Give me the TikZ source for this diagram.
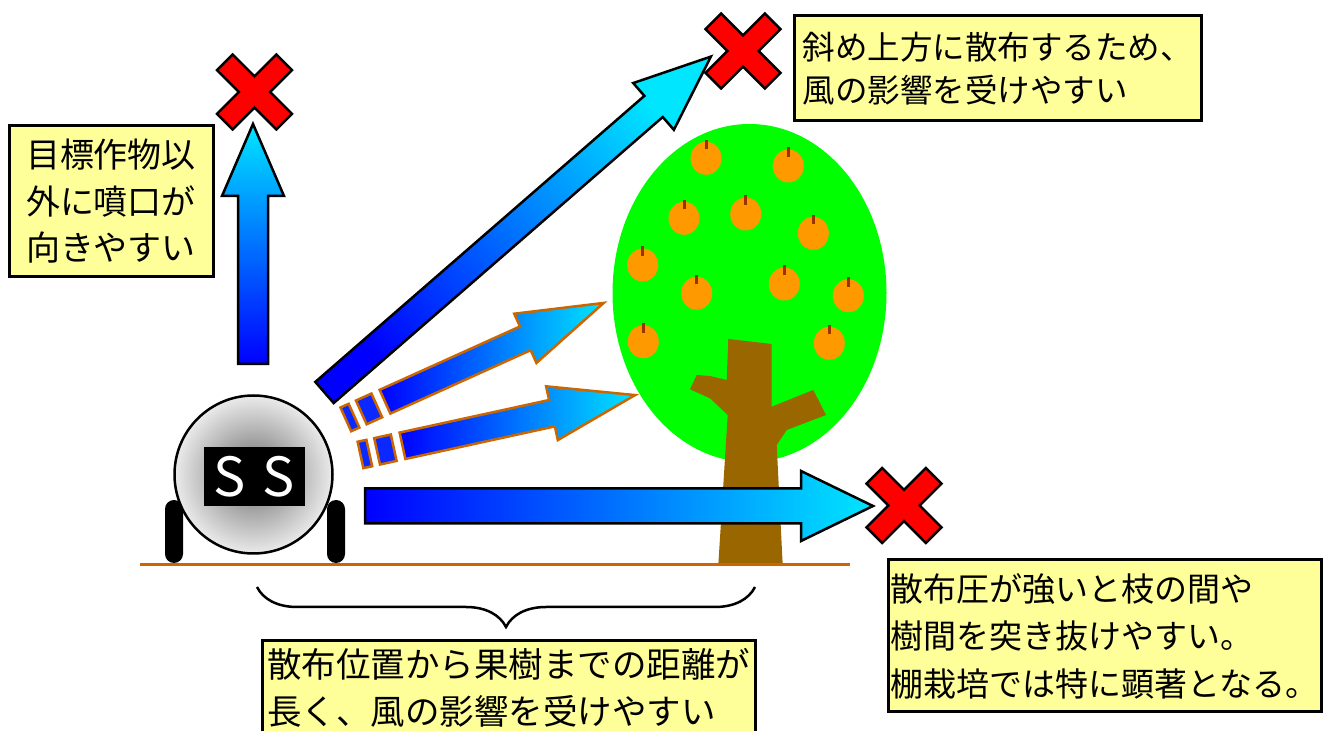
\documentclass[tikz,border=0pt]{standalone}
\usepackage{fontspec}
\setmainfont{Noto Sans CJK JP}
\usepackage{tikz}
\usetikzlibrary{decorations.pathreplacing}

\definecolor{notebg}{HTML}{FFFF99}
\definecolor{spraycyan}{RGB}{0,230,255}
\definecolor{sprayblue}{RGB}{0,0,255}
\definecolor{chipblue}{RGB}{10,40,255}
\definecolor{leafgreen}{HTML}{00FF00}
\definecolor{fruitorange}{HTML}{FF9900}
\definecolor{stembrown}{HTML}{993300}
\definecolor{trunkbrown}{HTML}{996600}
\definecolor{groundline}{HTML}{CC6600}

% block arrow along the x axis: length, shaft half width, head half width, head length
\newcommand{\fatarrow}[4]{(0,-#2) -- ({#1-#4},-#2) -- ({#1-#4},-#3) -- (#1,0) -- ({#1-#4},#3) -- ({#1-#4},#2) -- (0,#2) -- cycle}

\tikzset{
  note/.style={draw=black, line width=3pt, fill=notebg, align=left, inner sep=0pt},
  spray/.style={draw=black, line width=2.5pt, top color=spraycyan, bottom color=sprayblue, shading angle=#1},
  spray/.default=-90,
  drift/.style={draw=groundline, line width=2.5pt, left color=sprayblue, right color=spraycyan},
  chip/.style={draw=groundline, line width=2.5pt, fill=chipblue},
  wheel/.style={fill=black, rounded corners=9pt},
  fruit/.pic={
    \fill[fruitorange] (0,0) ellipse [x radius=15.5, y radius=16.5];
    \draw[stembrown, line width=3pt] (0,9) -- (0,18.5);
  },
  xmark/.pic={
    \filldraw[fill=red, draw=black, line width=2.5pt, rotate=45]
      (11,11) -- (42,11) -- (42,-11) -- (11,-11) -- (11,-42) -- (-11,-42) -- (-11,-11)
      -- (-42,-11) -- (-42,11) -- (-11,11) -- (-11,42) -- (11,42) -- cycle;
  },
}

\begin{document}
\begin{tikzpicture}[x=1pt, y=1pt]
        \clip (0,0) rectangle (1323,731);
        \fill[white] (0,0) rectangle (1323,731);

        % Tree
        \fill[leafgreen] (749.5,438) ellipse [x radius=137, y radius=169];
        \foreach \fx/\fy in {706/572.7, 788.3/565, 684/512.7, 745.7/517, 813.3/497.7,
            642.7/466, 696.7/437.7, 784.3/447, 848.3/435.3, 643.3/389.3, 829.3/387.7}
          \pic at (\fx,\fy) {fruit};
        \fill[trunkbrown] (728.3,392) -- (771.7,387) -- (771.7,324.3) -- (813.3,341)
          -- (826,316) -- (786.7,301) -- (776.7,286) -- (782.7,166) -- (718.3,166)
          -- (727.7,316) -- (710,332.7) -- (690,341.7) -- (696.7,356) -- (710,355)
          -- (726.7,351) -- cycle;
        \draw[groundline, line width=3pt] (140,166) -- (850,166);

        % Sprayer
        \fill[wheel] (165,168) rectangle (183,231);
        \fill[wheel] (327,168) rectangle (345,231);
        \node[circle, draw=black, line width=2.5pt, inner color=black!58, outer color=black!8,
          minimum size=158pt] (sprayer) at (253.5,256.5) {};
        \node[fill=black, text=white, minimum width=101pt, minimum height=59pt,
          font=\fontsize{54}{54}\selectfont] (ss) at (254.5,254.5) {S\hspace{17pt}S};

        % Spray directions
        \begin{scope}[shift={(253,367)}, rotate=90]
          \path[spray=0] \fatarrow{240}{15}{31}{72};
        \end{scope}
        \begin{scope}[shift={(324.5,338.5)}, rotate=41]
          \path[spray=-49] \fatarrow{512}{14}{31}{76};
        \end{scope}
        \begin{scope}[shift={(365,225)}]
          \path[spray] \fatarrow{508}{17.5}{35}{72};
        \end{scope}
        \begin{scope}[shift={(385,329.3)}, rotate=24.3]
          \path[drift] \fatarrow{240}{13}{27}{86};
          \filldraw[chip] (-26,-13) rectangle (-9,13);
          \filldraw[chip] (-43,-13) rectangle (-34,13);
        \end{scope}
        \begin{scope}[shift={(402.5,285.2)}, rotate=12.3]
          \path[drift] \fatarrow{238}{13.5}{27.5}{85};
          \filldraw[chip] (-26,-13.5) rectangle (-9,13.5);
          \filldraw[chip] (-43,-13.5) rectangle (-34,13.5);
        \end{scope}

        % Missed targets
        \pic (xup) at (254.5,639) {xmark};
        \pic (xhigh) at (743,680) {xmark};
        \pic (xthrough) at (904,225.5) {xmark};

        % Distance brace
        \draw[line width=2.5pt, decorate, decoration={brace, amplitude=40pt}] (755,144) -- (257,144);

        % Notes
        \node[note, minimum width=204pt, minimum height=151pt, font=\fontsize{34}{46.5}\selectfont]
          (up) at (111,529.5) {目標作物以\\外に噴口が\\向きやすい};
        \node[note, minimum width=407pt, minimum height=105pt, font=\fontsize{32.5}{43}\selectfont]
          (high) at (997.5,662.5) {斜め上方に散布するため、\\風の影響を受けやすい};
        \node[note, minimum width=433pt, minimum height=152pt, font=\fontsize{33}{47.5}\selectfont]
          (through) at (1104.5,95) {散布圧が強いと枝の間や\\樹間を突き抜けやすい。\\棚栽培では特に顕著となる。};
        \node[note, minimum width=493pt, minimum height=94pt, font=\fontsize{34.5}{47}\selectfont]
          (distance) at (508.5,43) {散布位置から果樹までの距離が\\長く、風の影響を受けやすい};
    \end{tikzpicture}
\end{document}
